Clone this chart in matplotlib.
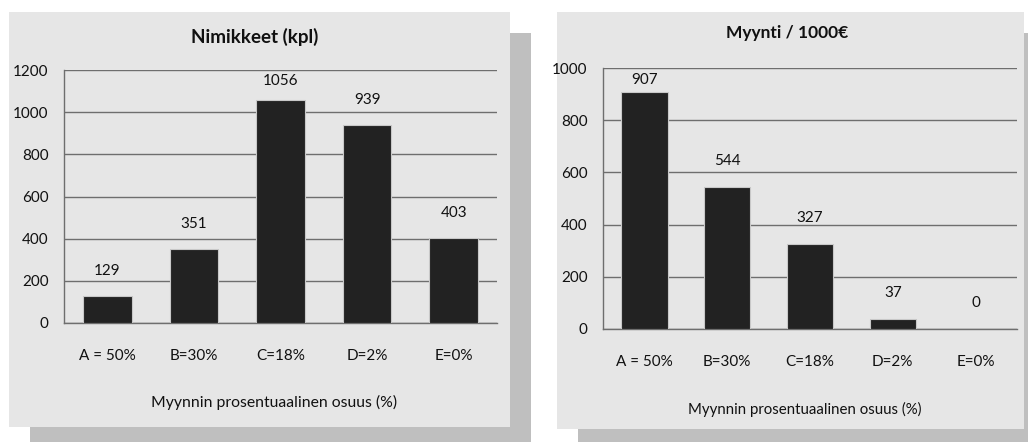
import matplotlib
matplotlib.use("Agg")
import matplotlib.pyplot as plt
from matplotlib.patches import Rectangle

plt.rcParams['font.family'] = ['Lato', 'DejaVu Sans']

categories = ['A = 50%', 'B=30%', 'C=18%', 'D=2%', 'E=0%']
nimikkeet = [129, 351, 1056, 939, 403]
myynti = [907, 544, 327, 37, 0]

W, H = 1028, 442
fig = plt.figure(figsize=(W / 100, H / 100), dpi=100)
fig.patch.set_facecolor('white')


def box(x0, y0, x1, y1, color):
    # rectangle given in pixels from top-left corner
    fig.patches.append(Rectangle((x0 / W, 1 - y1 / H), (x1 - x0) / W, (y1 - y0) / H,
                                 transform=fig.transFigure, facecolor=color,
                                 edgecolor='none', zorder=-10))


# shadows and panel backgrounds
box(30, 33, 531, 442, '#bfbfbf')
box(578, 33, 1028, 442, '#bfbfbf')
box(9, 12, 510, 427, '#e6e6e6')
box(557, 12, 1024, 429, '#e6e6e6')


def panel(rect, values, ymax, step, title, title_y, title_x, title_size,
          tick_y, xlab_y, xlab_x, xlab_size):
    l, t, r, b = rect
    ax = fig.add_axes([l / W, 1 - b / H, (r - l) / W, (b - t) / H])
    ax.set_facecolor('none')
    x = list(range(len(categories)))
    ax.bar(x, values, width=0.56, color='#222222', edgecolor='#c8c8c8',
           linewidth=0.8, zorder=3)
    pad = 0.1 * ymax
    for xi, v in zip(x, values):
        ax.text(xi, min(v + pad, ymax - 0.45 * pad), str(v), ha='center',
                va='center', fontsize=11, color='#111111', zorder=4)
    ax.set_xlim(-0.5, len(categories) - 0.5)
    ax.set_ylim(0, ymax)
    ax.set_yticks(range(0, ymax + 1, step))
    ax.yaxis.grid(True, color='#6e6e6e', linewidth=1.0)
    ax.set_axisbelow(True)
    for s in ['top', 'right']:
        ax.spines[s].set_visible(False)
    for s in ['left', 'bottom']:
        ax.spines[s].set_color('#6e6e6e')
        ax.spines[s].set_linewidth(1.0)
    ax.tick_params(axis='both', length=0, labelsize=11, colors='#111111')
    ax.tick_params(axis='y', pad=11)
    ax.set_xticks(x)
    ax.set_xticklabels([])
    # category labels sit on a fixed pixel row below the axis
    label_y = -(tick_y - b) / (b - t)
    for xi, c in zip(x, categories):
        ax.text(xi, label_y, c, transform=ax.get_xaxis_transform(), ha='center',
                va='center', fontsize=11, color='#111111')
    fig.text(xlab_x / W, 1 - xlab_y / H, 'Myynnin prosentuaalinen osuus (%)',
             ha='center', va='center', fontsize=xlab_size, color='#111111')
    fig.text(title_x / W, 1 - title_y / H, title, ha='center', va='center',
             fontsize=title_size, fontweight='bold', color='#111111')
    return ax


panel((64, 70, 497, 323), nimikkeet, 1200, 200, 'Nimikkeet (kpl)',
      37, 255, 13.5, 356, 402, 274, 11.3)
panel((603, 68, 1017, 329), myynti, 1000, 200, 'Myynti / 1000€',
      33, 787, 12.5, 362, 409, 805, 10.8)

fig.savefig('out.png', dpi=100, facecolor='white')
